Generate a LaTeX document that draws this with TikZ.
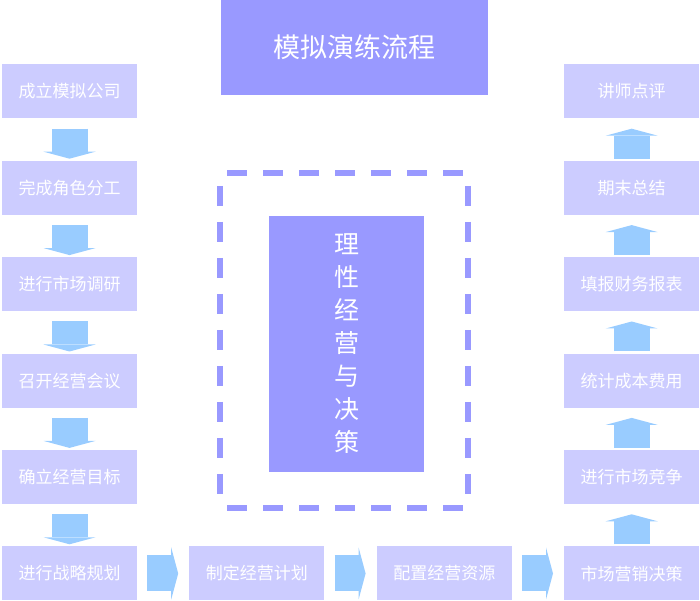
\documentclass[tikz,border=0pt]{standalone}
\usepackage{fontspec}
\newfontfamily\cjk{Noto Sans CJK SC}
\usetikzlibrary{arrows.meta,positioning}
\definecolor{boxlight}{HTML}{CCCCFF}
\definecolor{boxdark}{HTML}{9999FF}
\definecolor{arrowblue}{HTML}{99CCFF}
\tikzset{
  stagebox/.style={fill=boxlight, text=white, minimum width=135pt, minimum height=54pt,
    inner sep=0pt, font=\cjk\fontsize{17}{20}\selectfont},
  flowarrow/.style={draw=arrowblue, line width=36pt,
    -{Triangle[width=52pt,length=7pt,line width=0pt]}},
  frameline/.style={draw=boxdark, line width=6pt, dash pattern=on 20pt off 16pt},
}
\begin{document}
\begin{tikzpicture}[x=1pt,y=1pt,node distance=42pt]
    \useasboundingbox (0,0) rectangle (700,601);
    % title
    \node[fill=boxdark, text=white, minimum width=267pt, minimum height=95pt,
      font=\cjk\fontsize{27}{32}\selectfont] (title) at (354.5,553.5) {模拟演练流程};
    % left column
    \node[stagebox] (l1) at (69.5,509.5) {成立模拟公司};
    \node[stagebox, below=of l1] (l2) {完成角色分工};
    \node[stagebox, below=of l2] (l3) {进行市场调研};
    \node[stagebox, below=of l3] (l4) {召开经营会议};
    \node[stagebox, below=of l4] (l5) {确立经营目标};
    \node[stagebox, below=of l5] (l6) {进行战略规划};
    % bottom row
    \node[stagebox, right=52pt of l6] (b1) {制定经营计划};
    \node[stagebox, right=52pt of b1] (b2) {配置经营资源};
    \node[stagebox, right=52pt of b2] (r6) {市场营销决策};
    % right column
    \node[stagebox, above=of r6] (r5) {进行市场竞争};
    \node[stagebox, above=of r5] (r4) {统计成本费用};
    \node[stagebox, above=of r4] (r3) {填报财务报表};
    \node[stagebox, above=of r3] (r2) {期末总结};
    \node[stagebox, above=of r2] (r1) {讲师点评};
    % centre
    \coordinate (fnw) at (220,428);
    \coordinate (fse) at (468,93);
    \draw[frameline, dash phase=29pt] (fnw) -- (fse |- fnw);
    \draw[frameline, dash phase=29pt] (fnw |- fse) -- (fse);
    \draw[frameline, dash phase=23pt] (fnw) -- (fnw |- fse);
    \draw[frameline, dash phase=23pt] (fse |- fnw) -- (fse);
    \node[fill=boxdark, text=white, minimum width=155pt, minimum height=256pt,
      align=center, font=\cjk\fontsize{25}{33}\selectfont] (core) at (346.5,257)
      {理\\性\\经\\营\\与\\决\\策};
    % arrows
    \foreach \a/\b in {l1/l2,l2/l3,l3/l4,l4/l5,l5/l6}
      \draw[flowarrow] ([yshift=-10pt]\a.south) -- ([yshift=2pt]\b.north);
    \foreach \a/\b in {r6/r5,r5/r4,r4/r3,r3/r2,r2/r1}
      \draw[flowarrow] ([yshift=2pt]\a.north) -- ([yshift=-10pt]\b.south);
    \foreach \a/\b in {l6/b1,b1/b2,b2/r6}
      \draw[flowarrow] ([xshift=10pt]\a.east) -- ([xshift=-11pt]\b.west);
\end{tikzpicture}
\end{document}
